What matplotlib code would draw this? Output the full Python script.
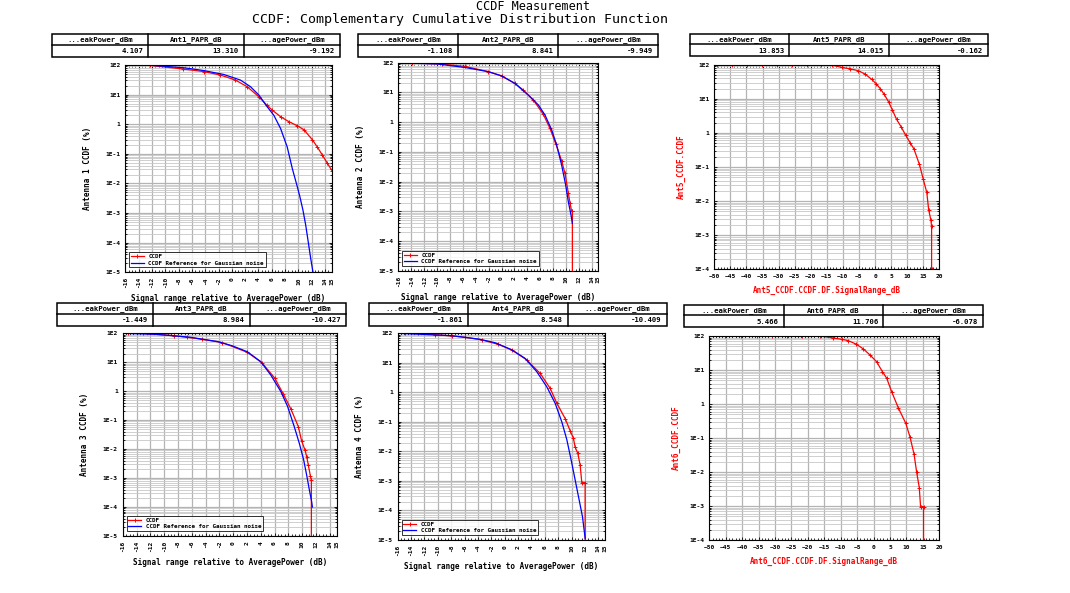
import matplotlib
matplotlib.use('Agg')
import matplotlib.pyplot as plt
from matplotlib.ticker import FixedLocator, LogLocator, NullFormatter, MultipleLocator

W, H = 1070, 593
MONO = 'DejaVu Sans Mono'

# ---- data (x in dB, y in %) ----
ant1_x = [-16, -12.28, -7.26, -4.24, -1.73, 0.53, 2.29, 4.05, 5.21, 6.06, 7.32, 8.57, 9.83, 10.83, 12.09, 12.84, 13.6, 14.35, 15.05]
ant1_y = [100, 97, 73, 60, 46, 31, 18.6, 8.5, 4.5, 3.0, 1.8, 1.22, 0.89, 0.65, 0.30, 0.17, 0.091, 0.048, 0.027]
ant1_ref_x = [-16, -12.28, -7.26, -4.24, -1.23, 1.29, 2.79, 4.05, 5.31, 6.31, 7.32, 8.32, 9.08, 9.83, 10.23, 10.68, 11.09, 11.44, 11.84, 12.19]
ant1_ref_y = [100, 98, 81, 65, 48, 31, 18.6, 9.7, 3.9, 2.0, 0.72, 0.17, 0.032, 0.0078, 0.0035, 0.00126, 4.0e-4, 1.2e-4, 3.0e-5, 1.0e-5]

ant2_x = [-16, -13.93, -9.28, -5.66, -2.05, 0.02, 2.09, 3.38, 4.93, 6.48, 7.51, 8.44, 9.32, 9.84, 10.36, 10.62, 10.87, 10.98, 10.98]
ant2_y = [100, 98, 90, 75, 50, 36, 20, 12, 5.6, 1.84, 0.62, 0.18, 0.05, 0.019, 0.0041, 0.0019, 0.001, 0.001, 1e-5]
ant2_ref_x = [-16, -13, -10, -5.66, -2.05, 0.02, 2.09, 4.16, 5.71, 6.74, 7.77, 8.55, 9.32, 9.94, 10.36, 10.77, 10.98]
ant2_ref_y = [100, 95, 91, 69, 50, 36, 20, 8.1, 3.8, 1.74, 0.55, 0.17, 0.036, 0.0078, 0.0021, 7.6e-4, 4e-4]

ant3_x = [-16, -15.2, -12.99, -8.62, -6.68, -4.5, -1.58, 2.06, 4.15, 6.04, 7.25, 8.37, 9.44, 9.92, 10.41, 10.65, 10.89, 11.18, 11.33, 11.33]
ant3_y = [100, 100, 99, 83, 73, 62, 48, 22, 9.7, 2.8, 0.81, 0.24, 0.06, 0.019, 0.0093, 0.0055, 0.0028, 0.0012, 8.7e-4, 1e-5]
ant3_ref_x = [-16, -11.05, -6.2, -2.31, -0.13, 2.06, 4.0, 5.46, 6.91, 7.88, 8.85, 9.58, 10.21, 10.7, 11.04, 11.38, 11.48]
ant3_ref_y = [100, 92, 73, 52, 37, 23, 10.5, 3.6, 0.97, 0.30, 0.060, 0.016, 0.0043, 0.0011, 3.9e-4, 1.5e-4, 1.0e-4]

ant4_x = [-16, -14.9, -12.9, -10.4, -7.92, -5.93, -3.43, -0.94, 1.06, 3.3, 5.3, 6.79, 7.79, 9.04, 9.79, 10.28, 10.53, 10.93, 11.28, 11.53, 12.03, 12.03]
ant4_y = [100, 100, 99, 90, 81, 73, 60, 42, 27.5, 12.5, 4.4, 1.38, 0.43, 0.13, 0.05, 0.028, 0.014, 0.0087, 0.0035, 8.8e-4, 8.8e-4, 1e-5]
ant4_ref_x = [-16, -7.92, -3.93, -1.44, 1.06, 3.05, 4.8, 6.29, 7.54, 8.54, 9.29, 9.94, 10.53, 11.13, 11.63, 12.03]
ant4_ref_y = [100, 83, 64, 48, 27.5, 14.2, 5.0, 1.55, 0.43, 0.10, 0.025, 0.0051, 0.0011, 2.3e-4, 6.2e-5, 1.15e-5]

ant5_x = [-49.3, -44.6, -39.9, -35.3, -30.6, -25.9, -21.3, -16.8, -13.5, -10.4, -7.8, -5.2, -3.1, -1.0, 0.3, 1.6, 2.8, 4.2, 5.4, 6.7, 8.1, 9.5, 10.9, 12.1, 13.8, 15.0, 16.1, 16.7, 17.4, 17.6, 17.6]
ant5_y = [100, 100, 100, 100, 100, 100, 100, 100, 99, 83, 76, 67, 53, 37, 28, 20, 13.8, 8.2, 4.7, 2.5, 1.52, 0.87, 0.52, 0.34, 0.12, 0.044, 0.018, 0.0055, 0.0027, 0.0018, 1e-4]

ant6_x = [-45.2, -40.2, -35.6, -31.0, -26.5, -21.9, -16.3, -12.3, -9.7, -7.7, -5.2, -3.1, -1.1, 0.9, 2.7, 4.0, 5.5, 7.5, 9.8, 11.05, 12.3, 13.1, 13.9, 14.3, 15.2, 15.2]
ant6_y = [100, 100, 100, 100, 100, 100, 100, 87.5, 80, 73, 57, 41.5, 27.7, 17.6, 8.9, 5.7, 2.3, 0.78, 0.27, 0.11, 0.034, 0.010, 0.0035, 9.6e-4, 9.6e-4, 1e-4]

table_heads = [['...eakPower_dBm', 'Ant1_PAPR_dB', '...agePower_dBm'],
               ['...eakPower_dBm', 'Ant2_PAPR_dB', '...agePower_dBm'],
               ['...eakPower_dBm', 'Ant5_PAPR_dB', '...agePower_dBm'],
               ['...eakPower_dBm', 'Ant3_PAPR_dB', '...agePower_dBm'],
               ['...eakPower_dBm', 'Ant4_PAPR_dB', '...agePower_dBm'],
               ['...eakPower_dBm', 'Ant6_PAPR_dB', '...agePower_dBm']]
table_vals = [['4.107', '13.310', '-9.192'],
              ['-1.108', '8.841', '-9.949'],
              ['13.853', '14.015', '-0.162'],
              ['-1.449', '8.984', '-10.427'],
              ['-1.861', '8.548', '-10.409'],
              ['5.466', '11.706', '-6.078']]

legend_labels = ['CCDF', 'CCDF Reference for Gaussian noise']
xlabel_rel = 'Signal range relative to AveragePower (dB)'
ytick_vals_5 = [1e2, 1e1, 1, 1e-1, 1e-2, 1e-3, 1e-4, 1e-5]
ytick_labs_5 = ['1E2', '1E1', '1', '1E-1', '1E-2', '1E-3', '1E-4', '1E-5']
xticks_rel = [-16, -14, -12, -10, -8, -6, -4, -2, 0, 2, 4, 6, 8, 10, 12, 14, 15]
xticks_wide = list(range(-50, 21, 5))

fig = plt.figure(figsize=(W / 100, H / 100), dpi=100)
over = fig.add_axes([0, 0, 1, 1])
over.set_xlim(0, W)
over.set_ylim(H, 0)
over.axis('off')


def px_axes(l, r, t, b):
    return fig.add_axes([l / W, 1 - b / H, (r - l) / W, (b - t) / H])


def style_log(ax, ymin, nlab):
    ax.set_yscale('log')
    ax.set_ylim(ymin, 100)
    ax.yaxis.set_major_locator(FixedLocator(ytick_vals_5[:nlab]))
    ax.set_yticklabels(ytick_labs_5[:nlab])
    ax.yaxis.set_minor_locator(LogLocator(base=10, subs=range(2, 10), numticks=20))
    ax.yaxis.set_minor_formatter(NullFormatter())
    ax.grid(True, which='major', color='#b4b4b4', lw=0.9)
    ax.grid(True, which='minor', axis='y', color='#c8c8c8', lw=0.6)
    ax.tick_params(which='both', direction='in', top=True, right=True, labelsize=4.5, length=2.5, width=0.6)
    ax.tick_params(which='minor', length=1.5)
    for lab in ax.get_xticklabels() + ax.get_yticklabels():
        lab.set_fontfamily(MONO)
        lab.set_fontweight('bold')
    for s in ax.spines.values():
        s.set_linewidth(0.8)


def rel_panel(box, red_x, red_y, ref_x, ref_y, ylabel):
    ax = px_axes(*box)
    ax.plot(red_x, red_y, color='red', lw=0.9, marker='+', ms=2.6, mew=0.7, label=legend_labels[0])
    ax.plot(ref_x, ref_y, color='blue', lw=0.9, label=legend_labels[1])
    ax.set_xlim(-16, 15)
    ax.set_xticks(xticks_rel)
    ax.set_xticklabels([str(v) for v in xticks_rel], rotation=90)
    ax.xaxis.set_minor_locator(MultipleLocator(0.5))
    style_log(ax, 1e-5, 8)
    ax.set_xlabel(xlabel_rel, fontsize=5.5, family=MONO, fontweight='bold', labelpad=4)
    ax.set_ylabel(ylabel, fontsize=5.5, family=MONO, fontweight='bold', labelpad=10)
    leg = ax.legend(loc='lower left', bbox_to_anchor=(0.005, 0.01), frameon=True,
                    fancybox=False, edgecolor='black', handlelength=2.2, borderpad=0.3,
                    labelspacing=0.2, prop={'family': MONO, 'weight': 'bold', 'size': 4.2})
    leg.get_frame().set_linewidth(0.7)
    return ax


def wide_panel(box, x, y, name):
    ax = px_axes(*box)
    ax.plot(x, y, color='red', lw=0.9, marker='+', ms=2.6, mew=0.7)
    ax.set_xlim(-50, 20)
    ax.set_xticks(xticks_wide)
    ax.xaxis.set_minor_locator(MultipleLocator(1))
    style_log(ax, 1e-4, 7)
    ax.set_xlabel(name + '_CCDF.CCDF.DF.SignalRange_dB', fontsize=5.5, family=MONO,
                  fontweight='bold', color='red', labelpad=5)
    ax.set_ylabel(name + '_CCDF.CCDF', fontsize=5.5, family=MONO, fontweight='bold',
                  color='red', labelpad=6)
    return ax


def table(l, r, t, b, heads, vals):
    mid = t + (b - t) * 0.47
    cw = (r - l) / 3
    over.add_patch(plt.Rectangle((l, t), r - l, b - t, fill=False, lw=1.1, ec='black'))
    over.plot([l, r], [mid, mid], color='black', lw=1.1)
    for i in range(3):
        x0 = l + i * cw
        if i:
            over.plot([x0, x0], [t, b], color='black', lw=1.1)
        over.text(x0 + cw / 2, (t + mid) / 2 + 0.5, heads[i], ha='center', va='center',
                  fontsize=5.2, family=MONO, fontweight='bold')
        over.text(x0 + cw - 5, (mid + b) / 2 + 0.5, vals[i], ha='right', va='center',
                  fontsize=5.2, family=MONO, fontweight='bold')


over.text(533, 6, 'CCDF Measurement', ha='center', va='center', fontsize=8.5, family=MONO)
over.text(460, 19.5, 'CCDF: Complementary Cumulative Distribution Function', ha='center',
          va='center', fontsize=9.5, family=MONO)

table(52, 340, 34, 57, table_heads[0], table_vals[0])
table(358, 658, 34, 57, table_heads[1], table_vals[1])
table(690, 988, 34, 56, table_heads[2], table_vals[2])
table(57, 346, 303, 326, table_heads[3], table_vals[3])
table(369, 667, 303, 326, table_heads[4], table_vals[4])
table(684, 983, 305, 327, table_heads[5], table_vals[5])

rel_panel((125.3, 331.7, 65, 272.3), ant1_x, ant1_y, ant1_ref_x, ant1_ref_y, 'Antenna 1 CCDF (%)')
rel_panel((398.3, 598.3, 62.7, 271), ant2_x, ant2_y, ant2_ref_x, ant2_ref_y, 'Antenna 2 CCDF (%)')
rel_panel((122.7, 336.7, 333.3, 536), ant3_x, ant3_y, ant3_ref_x, ant3_ref_y, 'Antenna 3 CCDF (%)')
rel_panel((397.7, 605, 333.3, 540), ant4_x, ant4_y, ant4_ref_x, ant4_ref_y, 'Antenna 4 CCDF (%)')
wide_panel((714.3, 939.3, 64.7, 269.3), ant5_x, ant5_y, 'Ant5')
wide_panel((709.3, 939.3, 336, 540), ant6_x, ant6_y, 'Ant6')

fig.savefig('out.png', dpi=100)
plt.close(fig)
